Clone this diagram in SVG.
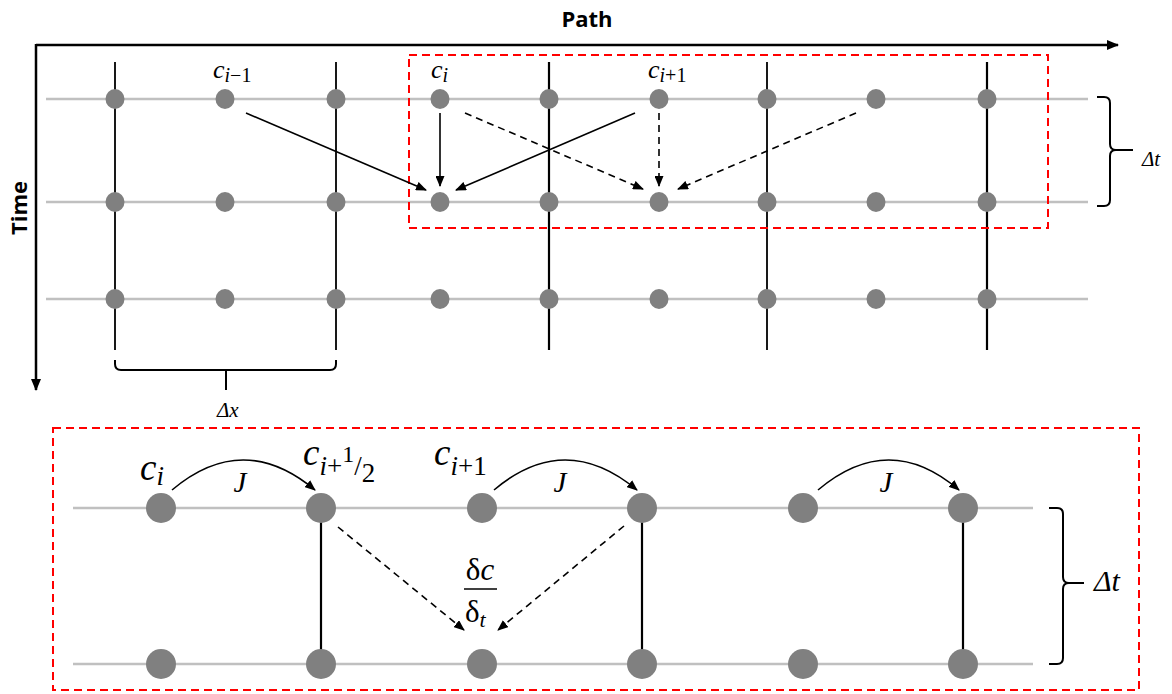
<svg xmlns="http://www.w3.org/2000/svg" width="1172" height="694" viewBox="0 0 1172 694">
<defs>
<style>
.grid{stroke:#c0c0c0;stroke-width:2.5;fill:none}
.vl{stroke:#000;stroke-width:1.8;fill:none}
.vb{stroke:#000;stroke-width:2.2;fill:none}
.dot{fill:#808080}
.red{stroke:#ff0000;stroke-width:2;fill:none;stroke-dasharray:8,5}
.ar{stroke:#000;stroke-width:1.6;fill:none;marker-end:url(#ah)}
.da{stroke:#000;stroke-width:1.6;fill:none;stroke-dasharray:7,5;marker-end:url(#ah)}
.br{stroke:#000;stroke-width:2;fill:none}
.m{font-family:"Liberation Serif","DejaVu Serif",serif;font-style:italic;fill:#000}
.u{font-style:normal}
.lbl{font-family:"Open Sans","Liberation Sans",sans-serif;font-weight:bold;font-size:22px;fill:#000}
.ax{stroke:#000;stroke-width:2.5;fill:none;marker-end:url(#axh)}
</style>
<marker id="ah" markerUnits="userSpaceOnUse" markerWidth="11" markerHeight="9" refX="10" refY="4.5" orient="auto">
<path d="M0,0 L11,4.5 L0,9 z" fill="#000"/>
</marker>
<marker id="axh" markerUnits="userSpaceOnUse" markerWidth="12" markerHeight="10" refX="11" refY="5" orient="auto">
<path d="M0,0 L12,5 L0,10 z" fill="#000"/>
</marker>
</defs>
<rect width="1172" height="694" fill="#fff"/>

<g id="axes">
<path class="ax" d="M36,45 L1118,45"/>
<path class="ax" d="M36,44 L36,390"/>
<text class="lbl" x="587" y="27" text-anchor="middle">Path</text>
<text class="lbl" transform="translate(27,208) rotate(-90)" text-anchor="middle">Time</text>
</g>

<g id="top-grid">
<path class="grid" d="M46,99 H1088 M46,202 H1088 M46,299 H1088"/>
<path class="vl" d="M115,62 V350 M336,62 V350 M767,62 V350"/>
<path class="vb" d="M549,62 V350 M987,62 V350"/>
</g>

<g id="top-nodes">
<g class="dot">
<ellipse cx="115" cy="99" rx="9.5" ry="10"/><ellipse cx="225" cy="99" rx="9.5" ry="10"/><ellipse cx="336" cy="99" rx="9.5" ry="10"/><ellipse cx="440" cy="99" rx="9.5" ry="10"/><ellipse cx="549" cy="99" rx="9.5" ry="10"/><ellipse cx="659" cy="99" rx="9.5" ry="10"/><ellipse cx="767" cy="99" rx="9.5" ry="10"/><ellipse cx="876" cy="99" rx="9.5" ry="10"/><ellipse cx="987" cy="99" rx="9.5" ry="10"/>
<ellipse cx="115" cy="202" rx="9.5" ry="10"/><ellipse cx="225" cy="202" rx="9.5" ry="10"/><ellipse cx="336" cy="202" rx="9.5" ry="10"/><ellipse cx="440" cy="202" rx="9.5" ry="10"/><ellipse cx="549" cy="202" rx="9.5" ry="10"/><ellipse cx="659" cy="202" rx="9.5" ry="10"/><ellipse cx="767" cy="202" rx="9.5" ry="10"/><ellipse cx="876" cy="202" rx="9.5" ry="10"/><ellipse cx="987" cy="202" rx="9.5" ry="10"/>
<ellipse cx="115" cy="299" rx="9.5" ry="10"/><ellipse cx="225" cy="299" rx="9.5" ry="10"/><ellipse cx="336" cy="299" rx="9.5" ry="10"/><ellipse cx="440" cy="299" rx="9.5" ry="10"/><ellipse cx="549" cy="299" rx="9.5" ry="10"/><ellipse cx="659" cy="299" rx="9.5" ry="10"/><ellipse cx="767" cy="299" rx="9.5" ry="10"/><ellipse cx="876" cy="299" rx="9.5" ry="10"/><ellipse cx="987" cy="299" rx="9.5" ry="10"/>
</g>
<text class="m" x="213" y="78" font-size="26">c<tspan font-size="20" dy="4">i<tspan class="u">−1</tspan></tspan></text>
<text class="m" x="431" y="78" font-size="26">c<tspan font-size="20" dy="4">i</tspan></text>
<text class="m" x="648" y="78" font-size="26">c<tspan font-size="20" dy="4">i<tspan class="u">+1</tspan></tspan></text>
</g>

<g id="top-box">
<rect class="red" x="409" y="55" width="639" height="173"/>
</g>

<g id="connectors">
<path class="ar" d="M246,113 L426,190"/>
<path class="ar" d="M440,113 L440,186"/>
<path class="ar" d="M635,113 L456,190"/>
<path class="da" d="M465,113 L643,189"/>
<path class="da" d="M659,113 L659,186"/>
<path class="da" d="M856,113 L678,189"/>
<path class="ar" d="M172,490 Q243,430 315,490"/>
<path class="ar" d="M494,490 Q565,430 637,490"/>
<path class="ar" d="M818,490 Q889,430 959,490"/>
<path class="da" d="M338,527 L464,630"/>
<path class="da" d="M624,526 L498,630"/>
</g>

<g id="braces">
<path class="br" d="M115,360 V364 Q115,370 121,370 H330 Q336,370 336,364 V360 M226,370 V390"/>
<text class="m" x="217" y="417" font-size="21">Δx</text>
<path class="br" d="M1097,97 H1104 Q1110,97 1110,103 V144 Q1110,150 1116,150 H1133 M1116,150 Q1110,150 1110,156 V200 Q1110,206 1104,206 H1097"/>
<text class="m" x="1142" y="166" font-size="21">Δt</text>
<path class="br" d="M1049,508 H1057 Q1063,508 1063,514 V577 Q1063,583 1069,583 H1084 M1069,583 Q1063,583 1063,589 V658 Q1063,664 1057,664 H1049"/>
<text class="m" x="1094" y="591" font-size="30">Δt</text>
</g>

<g id="bottom-box">
<rect class="red" x="53" y="428" width="1086" height="262"/>
</g>

<g id="bottom-grid">
<path class="grid" d="M73,508 H1033 M73,664 H1033"/>
<path class="vb" d="M321,508 V664 M642,508 V664 M963,508 V664"/>
</g>

<g id="bottom-nodes">
<g class="dot">
<circle cx="161" cy="508" r="15"/><circle cx="321" cy="508" r="15"/><circle cx="482" cy="508" r="15"/><circle cx="642" cy="508" r="15"/><circle cx="803" cy="508" r="15"/><circle cx="963" cy="508" r="15"/>
<circle cx="161" cy="664" r="15"/><circle cx="321" cy="664" r="15"/><circle cx="482" cy="664" r="15"/><circle cx="642" cy="664" r="15"/><circle cx="803" cy="664" r="15"/><circle cx="963" cy="664" r="15"/>
</g>
<text class="m" x="140" y="480" font-size="37">c<tspan font-size="27" dy="5">i</tspan></text>
<text class="m" x="303" y="465" font-size="37">c<tspan font-size="27" dy="10">i<tspan class="u">+</tspan></tspan><tspan class="u" font-size="24" dy="-13">1</tspan><tspan class="u" font-size="27" dy="13">/</tspan><tspan class="u" font-size="27" dy="7">2</tspan></text>
<text class="m" x="434" y="465" font-size="37">c<tspan font-size="27" dy="10">i<tspan class="u">+1</tspan></tspan></text>
<text class="m" x="240" y="492" font-size="29" text-anchor="middle">J</text>
<text class="m" x="560" y="492" font-size="29" text-anchor="middle">J</text>
<text class="m" x="886" y="492" font-size="29" text-anchor="middle">J</text>
<text class="m" x="480" y="580" font-size="31" text-anchor="middle"><tspan class="u">δ</tspan>c</text>
<path d="M464,589 H497" stroke="#000" stroke-width="1.6"/>
<text class="m" x="465" y="622" font-size="31"><tspan class="u">δ</tspan><tspan font-size="22" dy="5">t</tspan></text>
</g>
</svg>
